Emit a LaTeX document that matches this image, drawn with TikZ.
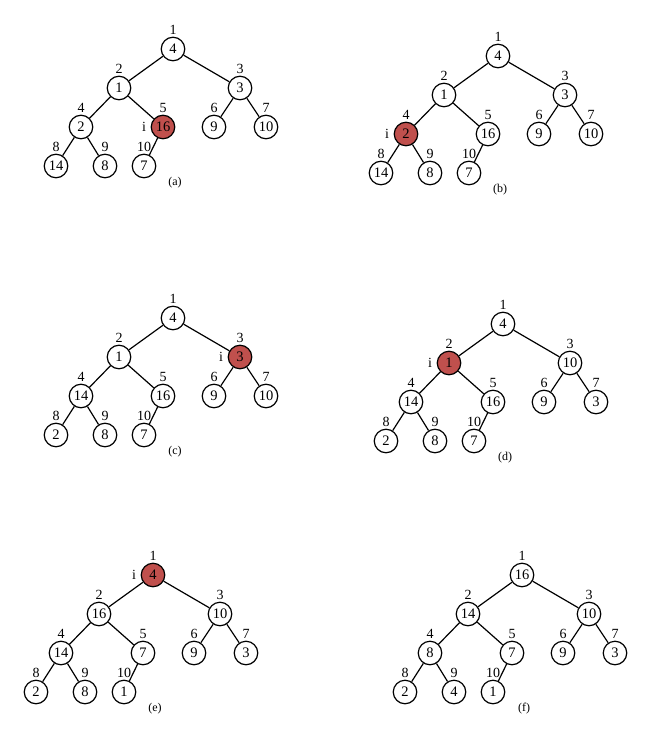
\documentclass[tikz,border=0pt]{standalone}
\usepackage{fontspec}
\setmainfont{Liberation Serif}
\definecolor{hotred}{HTML}{C0504D}
\tikzset{
  keynode/.style={circle, draw, line width=1.2pt, minimum size=23.5pt, inner sep=0pt, font=\fontsize{14.5}{15}\selectfont},
  idx/.style={inner sep=0pt, font=\fontsize{14}{15}\selectfont},
  captext/.style={inner sep=0pt, font=\fontsize{12}{13}\selectfont},
  treeedge/.style={line width=1.2pt}
}
\def\px{{0,-54,67,-92,-10,41,93,-117,-68,-29}}
\def\py{{0,39,39,78,78,78,78,117,117,117}}
% #1 prefix, #2 root position, #3 values, #4 highlighted index, #5 caption
\newcommand{\heapdraw}[5]{%
  \begin{scope}[shift={#2}]
    \foreach \v [count=\i] in {#3} {
      \pgfmathsetmacro\xx{\px[\i-1]}
      \pgfmathsetmacro\yy{\py[\i-1]}
      \edef\fc{\ifnum\i=#4 hotred\else white\fi}
      \node[keynode, fill=\fc] (#1\i) at (\xx,\yy) {\v};
      \node[idx] (#1l\i) at (\xx,\yy-19.5) {\i};
    }
    \foreach \c in {2,...,10} {
      \pgfmathtruncatemacro\p{\c/2}
      \draw[treeedge] (#1\p) -- (#1\c);
    }
    \ifnum#4>0
      \pgfmathsetmacro\ix{\px[#4-1]-19}
      \pgfmathsetmacro\iy{\py[#4-1]}
      \node[idx] (#1i) at (\ix,\iy) {i};
    \fi
    \node[captext] (#1cap) at (2,134) {#5};
  \end{scope}
}
\begin{document}
\begin{tikzpicture}[x=1pt,y=-1pt]
  \useasboundingbox (0,0) rectangle (656,733);
  \heapdraw{a}{(173,49)}{4,1,3,2,16,9,10,14,8,7}{5}{(a)}
  \heapdraw{b}{(498,56)}{4,1,3,2,16,9,10,14,8,7}{4}{(b)}
  \heapdraw{c}{(173,318)}{4,1,3,14,16,9,10,2,8,7}{3}{(c)}
  \heapdraw{d}{(503,324)}{4,1,10,14,16,9,3,2,8,7}{2}{(d)}
  \heapdraw{e}{(153,575)}{4,16,10,14,7,9,3,2,8,1}{1}{(e)}
  \heapdraw{f}{(522,575)}{16,14,10,8,7,9,3,2,4,1}{0}{(f)}
\end{tikzpicture}
\end{document}
